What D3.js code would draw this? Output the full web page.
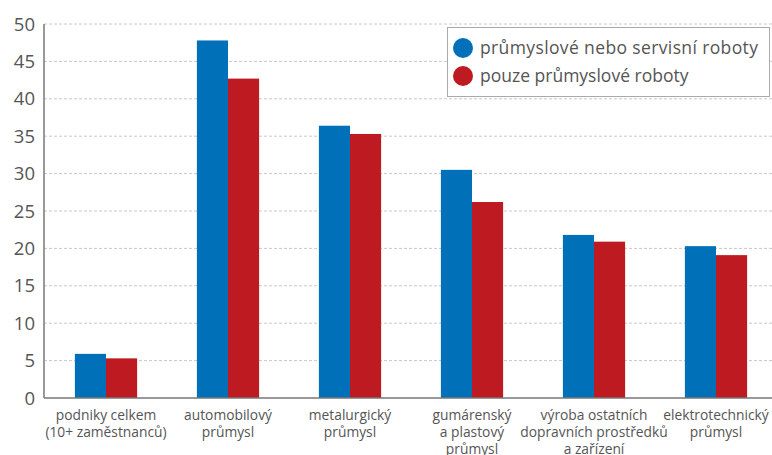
<!DOCTYPE html>
<html>
<head>
<meta charset="utf-8">
<script src="https://cdn.jsdelivr.net/npm/d3@7"></script>
<style>
  body { margin: 0; background: #fff; }
  svg { font-family: "Open Sans", "Noto Sans", sans-serif; }
</style>
</head>
<body>
<div id="chart"></div>
<script>
// data
const categories = [
  ["podniky celkem", "(10+ zaměstnanců)"],
  ["automobilový", "průmysl"],
  ["metalurgický", "průmysl"],
  ["gumárenský", "a plastový", "průmysl"],
  ["výroba ostatních", "dopravních prostředků", "a zařízení"],
  ["elektrotechnický", "průmysl"]
];
const seriesNames = ["průmyslové nebo servisní roboty", "pouze průmyslové roboty"];
const industrialOrService = [5.9, 47.8, 36.4, 30.5, 21.8, 20.3];
const industrialOnly = [5.3, 42.7, 35.3, 26.2, 20.9, 19.1];
const yTicks = [0, 5, 10, 15, 20, 25, 30, 35, 40, 45, 50];
const colors = ["#0070b8", "#be1a21"];

const width = 772, height = 455;
const margin = { top: 24, right: -5, bottom: 57, left: 45 };

const svg = d3.select("#chart").append("svg")
  .attr("width", width)
  .attr("height", height);

const x = d3.scaleBand()
  .domain(d3.range(categories.length))
  .range([margin.left, width - margin.right])
  .paddingInner(0.49)
  .paddingOuter(0.245);

const xs = d3.scaleBand()
  .domain([0, 1])
  .range([0, x.bandwidth()]);

const y = d3.scaleLinear()
  .domain([0, 50])
  .range([height - margin.bottom, margin.top]);

// gridlines
svg.append("g")
  .selectAll("line")
  .data(yTicks.filter(d => d > 0))
  .join("line")
  .attr("x1", 44)
  .attr("x2", width)
  .attr("y1", d => y(d))
  .attr("y2", d => y(d))
  .attr("stroke", "#c8c8c8")
  .attr("stroke-width", 1)
  .attr("stroke-dasharray", "3,2");

// y tick labels
svg.append("g")
  .selectAll("text")
  .data(yTicks)
  .join("text")
  .attr("x", 35)
  .attr("y", d => y(d))
  .attr("dy", "0.36em")
  .attr("text-anchor", "end")
  .attr("fill", "#555")
  .attr("font-size", 18.5)
  .text(d => d);

// bars
const series = [industrialOrService, industrialOnly];
series.forEach((vals, si) => {
  svg.append("g")
    .selectAll("rect")
    .data(vals)
    .join("rect")
    .attr("x", (d, i) => x(i) + xs(si))
    .attr("width", xs.bandwidth())
    .attr("y", d => y(d))
    .attr("height", d => y(0) - y(d))
    .attr("fill", colors[si]);
});

// axes lines
svg.append("line")
  .attr("x1", 44).attr("x2", 44)
  .attr("y1", margin.top).attr("y2", y(0))
  .attr("stroke", "#777").attr("stroke-width", 1.5);
svg.append("line")
  .attr("x1", 44).attr("x2", width)
  .attr("y1", y(0)).attr("y2", y(0))
  .attr("stroke", "#777").attr("stroke-width", 1.5);

// x labels
const xl = svg.append("g")
  .selectAll("text")
  .data(categories)
  .join("text")
  .attr("x", (d, i) => x(i) + x.bandwidth() / 2)
  .attr("y", 420)
  .attr("text-anchor", "middle")
  .attr("fill", "#555")
  .attr("font-size", 13.8);
xl.selectAll("tspan")
  .data(d => d)
  .join("tspan")
  .attr("x", function () { return d3.select(this.parentNode).attr("x"); })
  .attr("dy", (d, i) => i === 0 ? 0 : 17)
  .text(d => d);

// legend
const lg = svg.append("g");
lg.append("rect")
  .attr("x", 447.5).attr("y", 27.5)
  .attr("width", 322).attr("height", 69)
  .attr("fill", "#fff")
  .attr("stroke", "#aaa").attr("stroke-width", 1);
seriesNames.forEach((name, i) => {
  lg.append("circle")
    .attr("cx", 463).attr("cy", 48 + i * 28)
    .attr("r", 10)
    .attr("fill", colors[i]);
  lg.append("text")
    .attr("x", 480).attr("y", 48 + i * 28)
    .attr("dy", "0.36em")
    .attr("fill", "#555")
    .attr("font-size", 17.5)
    .attr("textLength", i === 0 ? 278 : null)
    .text(name);
});
</script>
</body>
</html>
